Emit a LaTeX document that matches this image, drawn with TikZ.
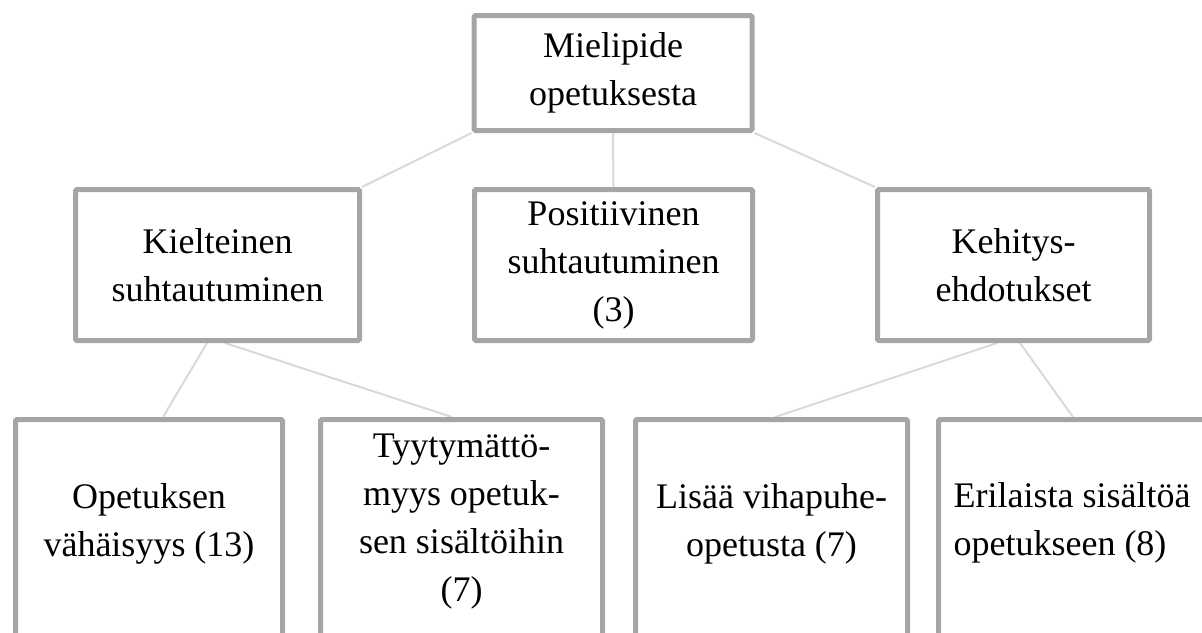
\documentclass[tikz,border=0pt]{standalone}
\usepackage{fontspec}
\setmainfont{Liberation Serif}
\usepackage{xcolor}
\usepackage{tikz}
\usetikzlibrary{calc,backgrounds}

\definecolor{boxgray}{HTML}{A5A5A5}
\definecolor{linkgray}{HTML}{D9D9D9}

\begin{document}
\begin{tikzpicture}[x=0.75pt,y=-0.75pt,thick,
    main node/.style={draw=boxgray,line width=3.75pt,rounded corners=1pt,fill=white,inner sep=0pt,align=center,font=\fontsize{27}{36}\selectfont},
    leaf node/.style={main node,minimum width=#1,minimum height=173.25pt},
    leaf text/.style={inner sep=0pt,align=center,font=\fontsize{27}{36}\selectfont},
    link/.style={draw=linkgray,line width=1.5pt}]
    \useasboundingbox (0,0) rectangle (1202,632);
    \clip (0,0) rectangle (1202,632);
    \node[main node,minimum width=208.5pt,minimum height=86.25pt] (top) at (613,73) {Mielipide\\opetuksesta};
    \node[main node,minimum width=213pt,minimum height=113.25pt] (kiel) at (217.5,265) {Kielteinen\\suhtautuminen};
    \node[main node,minimum width=208.5pt,minimum height=113.25pt] (pos) at (613.5,265) {Positiivinen\\suhtautuminen\\(3)};
    \node[main node,minimum width=204pt,minimum height=113.25pt] (keh) at (1013.5,265) {Kehitys-\\ehdotukset};
    \node[leaf node=200.25pt] (b1) at (149,535) {};
    \node[leaf node=211.5pt] (b2) at (461.5,535) {};
    \node[leaf node=204pt] (b3) at (771.5,535) {};
    \node[leaf node=204pt] (b4) at (1074.5,535) {};
    \node[leaf text] (t1) at (149,524) {Opetuksen\\vähäisyys (13)};
    \node[leaf text] (t2) at (461.5,522) {Tyytymättö-\\myys opetuk-\\sen sisältöihin\\(7)};
    \node[leaf text] (t3) at (771.5,524) {Lisää vihapuhe-\\opetusta (7)};
    \node[leaf text,align=left,anchor=west] (t4) at (953,523) {Erilaista sisältöä\\opetukseen (8)};
    \begin{pgfonlayer}{background}
      \draw[link] (top.south west) -- (kiel.north east);
      \draw[link] (top.south) -- (pos.north);
      \draw[link] (top.south east) -- (keh.north west);
      \draw[link] ($(kiel.south)+(-10.5,0)$) -- ($(b1.north)+(14,0)$);
      \draw[link] ($(kiel.south)+(7.5,0)$) -- ($(b2.north)+(-9.5,0)$);
      \draw[link] ($(keh.south)+(-16.5,0)$) -- ($(b3.north)+(3.5,0)$);
      \draw[link] ($(keh.south)+(6.5,0)$) -- ($(b4.north)+(-1.5,0)$);
    \end{pgfonlayer}
  \end{tikzpicture}
\end{document}
